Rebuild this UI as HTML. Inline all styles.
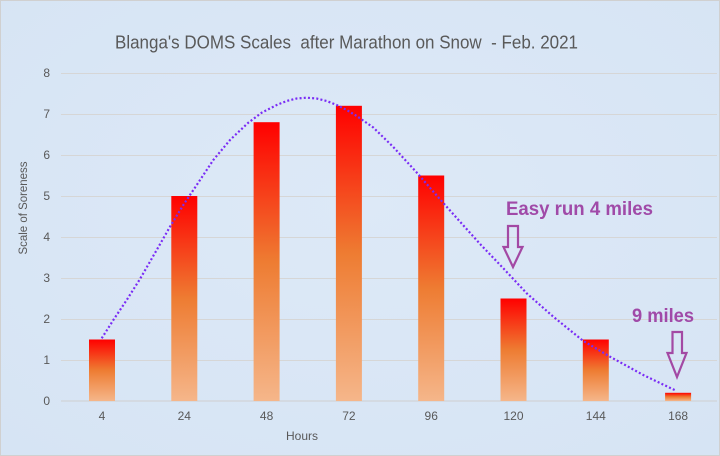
<!DOCTYPE html>
<html>
<head>
<meta charset="utf-8">
<style>
  html,body{margin:0;padding:0;background:#dae7f5;}
  svg{display:block;}
  text{font-family:"Liberation Sans",sans-serif;}
</style>
</head>
<body>
<svg width="720" height="456" viewBox="0 0 720 456" xmlns="http://www.w3.org/2000/svg">
  <defs>
    <linearGradient id="bar" x1="0" y1="0" x2="0" y2="1">
      <stop offset="0" stop-color="#ff0000"/>
      <stop offset="0.5" stop-color="#ee7c32"/>
      <stop offset="1" stop-color="#f5b68a"/>
    </linearGradient>
    <radialGradient id="bg" cx="0.5" cy="0.45" r="0.75">
      <stop offset="0" stop-color="#dde9f7"/>
      <stop offset="1" stop-color="#d6e4f4"/>
    </radialGradient>
  </defs>
  <rect x="0" y="0" width="720" height="456" fill="url(#bg)"/>
  <rect x="0.5" y="0.5" width="719" height="455" fill="none" stroke="#d0d0d0" stroke-width="1"/>

  <!-- title -->
  <text x="115" y="48.5" font-size="18" fill="#595959" textLength="463" lengthAdjust="spacingAndGlyphs" xml:space="preserve">Blanga's DOMS Scales  after Marathon on Snow  - Feb. 2021</text>

  <!-- gridlines -->
  <g stroke="#d6d6d6" stroke-width="1">
    <line x1="61" y1="73.5" x2="717" y2="73.5"/>
    <line x1="61" y1="114.5" x2="717" y2="114.5"/>
    <line x1="61" y1="155.5" x2="717" y2="155.5"/>
    <line x1="61" y1="196.5" x2="717" y2="196.5"/>
    <line x1="61" y1="237.5" x2="717" y2="237.5"/>
    <line x1="61" y1="278.5" x2="717" y2="278.5"/>
    <line x1="61" y1="319.5" x2="717" y2="319.5"/>
    <line x1="61" y1="360.5" x2="717" y2="360.5"/>
    <line x1="61" y1="401" x2="717" y2="401" stroke="#cfcfcf"/>
  </g>

  <!-- y labels -->
  <g font-size="12" fill="#595959" text-anchor="end">
    <text x="50" y="77">8</text>
    <text x="50" y="118">7</text>
    <text x="50" y="159">6</text>
    <text x="50" y="200">5</text>
    <text x="50" y="241">4</text>
    <text x="50" y="282">3</text>
    <text x="50" y="323">2</text>
    <text x="50" y="364">1</text>
    <text x="50" y="405">0</text>
  </g>
  <text transform="translate(27,208) rotate(-90)" font-size="12" fill="#595959" text-anchor="middle" textLength="93" lengthAdjust="spacingAndGlyphs">Scale of Soreness</text>

  <!-- x labels -->
  <g font-size="12" fill="#595959" text-anchor="middle">
    <text x="102" y="420">4</text>
    <text x="184.3" y="420">24</text>
    <text x="266.6" y="420">48</text>
    <text x="348.9" y="420">72</text>
    <text x="431.2" y="420">96</text>
    <text x="513.5" y="420">120</text>
    <text x="595.8" y="420">144</text>
    <text x="678.1" y="420">168</text>
  </g>
  <text x="302" y="440" font-size="12" fill="#595959" text-anchor="middle">Hours</text>

  <!-- bars -->
  <g fill="url(#bar)">
    <rect x="89" y="339.5" width="26" height="61.5"/>
    <rect x="171.3" y="196" width="26" height="205"/>
    <rect x="253.6" y="122.2" width="26" height="278.8"/>
    <rect x="335.9" y="105.8" width="26" height="295.2"/>
    <rect x="418.2" y="175.5" width="26" height="225.5"/>
    <rect x="500.5" y="298.5" width="26" height="102.5"/>
    <rect x="582.8" y="339.5" width="26" height="61.5"/>
    <rect x="665.1" y="392.8" width="26" height="8.2"/>
  </g>

  <!-- trendline -->
  <polyline fill="none" stroke="#7a2cf5" stroke-width="2.2" stroke-dasharray="2 2.2"
    points="101.7,338.3 114,319 126.7,300 140,279 156.7,250 170,226.7 183.3,205 196.7,185 213.3,160 230,140 248.3,122.7 261.7,112.7 276.7,105 286.7,101 296.7,98.5 306.7,97.7 316.7,98.5 326.7,101 336.7,105 346.7,110 356.7,116 373.3,127.5 393.3,147 416.7,172.5 438,197 460,221.7 481,245 503.3,268.3 526.7,293.3 553.3,316.7 583.3,341 610,356.7 643.3,375 676,390.7"/>

  <!-- annotations -->
  <text x="506" y="215" font-size="19" font-weight="bold" fill="#a04aa8" textLength="147" lengthAdjust="spacingAndGlyphs">Easy run 4 miles</text>
  <path d="M508,226 L518,226 L518,247 L522.5,247 L513,267 L503.5,247 L508,247 Z" fill="none" stroke="#a349a4" stroke-width="2.2" stroke-linejoin="miter"/>

  <text x="632" y="322" font-size="19" font-weight="bold" fill="#a04aa8" textLength="62" lengthAdjust="spacingAndGlyphs">9 miles</text>
  <path d="M672.5,332 L682,332 L682,353 L686.5,353 L677,377 L667.5,353 L672.5,353 Z" fill="none" stroke="#a349a4" stroke-width="2.2" stroke-linejoin="miter"/>
</svg>
</body>
</html>
